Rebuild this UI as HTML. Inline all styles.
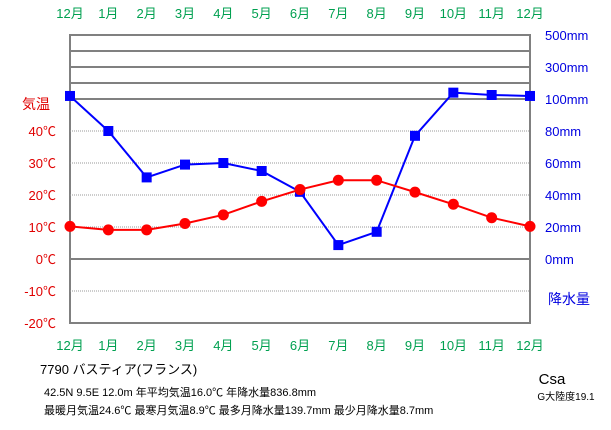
<!DOCTYPE html>
<html><head><meta charset="utf-8"><style>
body{margin:0;background:#fff;width:611px;height:425px;overflow:hidden}
svg text{font-family:"Liberation Sans","Noto Sans CJK JP",sans-serif}
</style></head><body>
<svg id="c" width="611" height="425" xmlns="http://www.w3.org/2000/svg">
<g id="grid"></g><g id="labels"></g><g id="series"></g>
<g font-size="12" fill="#000">
<text x="40" y="374" font-size="13">7790  バスティア(フランス)</text>
<text x="44" y="396" font-size="11">42.5N  9.5E  12.0m  年平均気温16.0℃  年降水量836.8mm</text>
<text x="44" y="414" font-size="11">最暖月気温24.6℃ 最寒月気温8.9℃ 最多月降水量139.7mm 最少月降水量8.7mm</text>
<text x="552" y="384" font-size="15" text-anchor="middle">Csa</text>
<text x="566" y="400" font-size="10" text-anchor="middle">G大陸度19.1</text>
</g>
</svg>
<script>
const months=["12月","1月","2月","3月","4月","5月","6月","7月","8月","9月","10月","11月","12月"];
const temps=[10.2,9.1,9.1,11.1,13.8,18.0,21.7,24.6,24.6,20.9,17.1,12.9,10.2];
const precip=[119,80,51,59,60,55,42,8.7,17,77,139.7,125,119];
const tempTicks=[40,30,20,10,0,-10,-20];
const precTicks=[0,20,40,60,80,100,300,500];
const NS="http://www.w3.org/2000/svg";
const X0=70,X1=530,Y0=35,Y1=323;
function x(i){return X0+i*(X1-X0)/(months.length-1);}
function yT(t){return 259-t*3.2;}
function yP(p){return p<=100?259-p*1.6:99-(p-100)/200*32;}
function mk(tag,at,parent){const e=document.createElementNS(NS,tag);for(const k in at)e.setAttribute(k,at[k]);document.getElementById(parent).appendChild(e);return e;}
// grid
const r=mk('rect',{x:X0,y:Y0,width:X1-X0,height:Y1-Y0,fill:'none',stroke:'#808080','stroke-width':2},'grid');


[51,67,83,99,259].forEach(yy=>{const l=mk('line',{x1:X0,x2:X1,y1:yy,y2:yy,stroke:'#808080','stroke-width':2},'grid');

});
tempTicks.forEach(t=>{if(t===0||t===-20)return;const l=mk('line',{x1:X0,x2:X1,y1:yT(t),y2:yT(t),stroke:'#999','stroke-width':1,'stroke-dasharray':'1,1'},'grid');

});
// labels
months.forEach((m,i)=>{[18,350].forEach(yy=>{const t=mk('text',{x:x(i),y:yy,'text-anchor':'middle',fill:'#00a050','font-size':13},'labels');t.textContent=m;

});});
tempTicks.forEach(t=>{const e=mk('text',{x:56,y:yT(t)+5,'text-anchor':'end',fill:'#e00000','font-size':13},'labels');e.textContent=t+'℃';

});
precTicks.forEach(p=>{const e=mk('text',{x:545,y:yP(p)+5,fill:'#0000e0','font-size':13},'labels');e.textContent=p+'mm';

});
let e=mk('text',{x:22,y:109,fill:'#e00000','font-size':14},'labels');e.textContent='気温';


e=mk('text',{x:548,y:304,fill:'#0000e0','font-size':14},'labels');e.textContent='降水量';


// series
const pl=mk('polyline',{points:precip.map((p,i)=>x(i)+','+yP(p)).join(' '),fill:'none',stroke:'#0000ff','stroke-width':2},'series');


precip.forEach((p,i)=>{const s=mk('rect',{x:x(i)-5,y:yP(p)-5,width:10,height:10,fill:'#0000ff'},'series');

});
const tl=mk('polyline',{points:temps.map((t,i)=>x(i)+','+yT(t)).join(' '),fill:'none',stroke:'#ff0000','stroke-width':2},'series');


temps.forEach((t,i)=>{const c=mk('circle',{cx:x(i),cy:yT(t),r:5.5,fill:'#ff0000'},'series');

});
</script>
</body></html>
